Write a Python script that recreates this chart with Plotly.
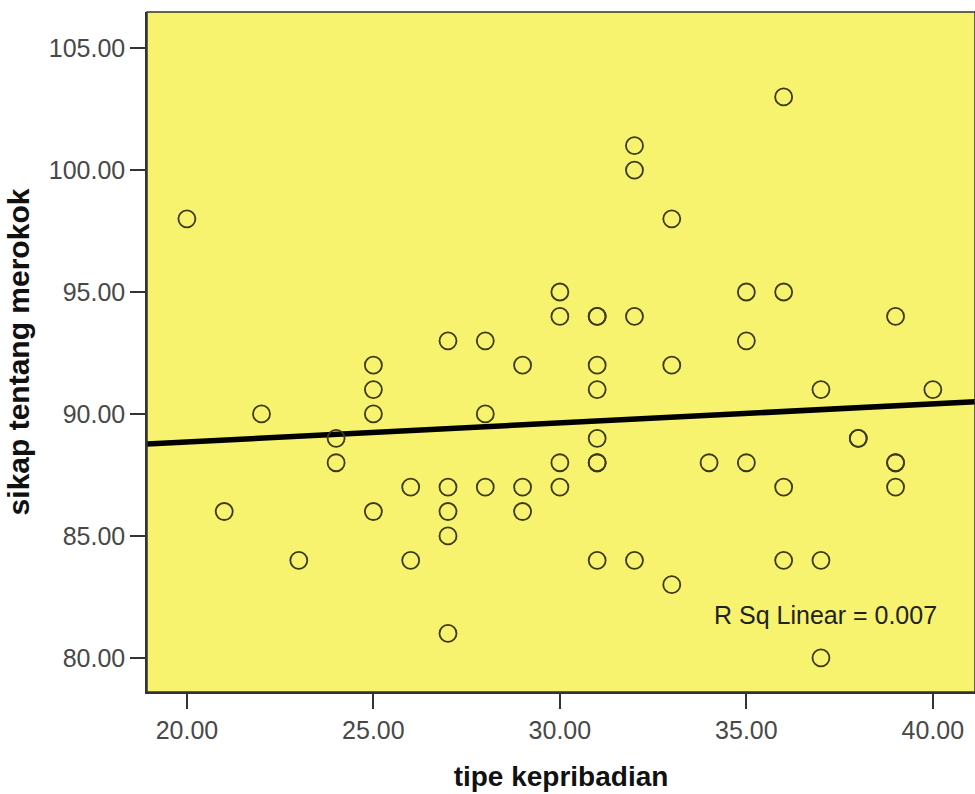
import numpy as np
import plotly.graph_objects as go

# tipe kepribadian (x) and sikap tentang merokok (y)
x_vals = [20, 21, 22, 23, 24, 24,
          25, 25, 25, 25, 26, 26,
          27, 27, 27, 27, 27, 28, 28, 28,
          29, 29, 29, 30, 30, 30, 30,
          31, 31, 31, 31, 31, 31, 31, 31,
          32, 32, 32, 32, 33, 33, 33, 34,
          35, 35, 35, 36, 36, 36, 36,
          37, 37, 37, 38, 38, 39, 39, 39, 39, 40]
y_vals = [98, 86, 90, 84, 89, 88,
          92, 91, 90, 86, 87, 84,
          93, 87, 86, 85, 81, 93, 90, 87,
          92, 87, 86, 95, 94, 88, 87,
          94, 94, 92, 91, 89, 88, 88, 84,
          101, 100, 94, 84, 98, 92, 83, 88,
          95, 93, 88, 103, 95, 87, 84,
          91, 84, 80, 89, 89, 94, 88, 88, 87, 91]

x_ticks = [20, 25, 30, 35, 40]
y_ticks = [80, 85, 90, 95, 100, 105]
r2_text = "R Sq Linear = 0.007"

x_range = [18.93, 41.13]
y_range = [78.6, 106.48]

slope, intercept = np.polyfit(x_vals, y_vals, 1)
fit_x = np.array(x_range)
fit_y = slope * fit_x + intercept

FONT = "Liberation Sans, Arial, sans-serif"

fig = go.Figure()
fig.add_trace(go.Scatter(
    x=fit_x, y=fit_y, mode="lines",
    line=dict(color="black", width=5.5), hoverinfo="skip", showlegend=False))
fig.add_trace(go.Scatter(
    x=x_vals, y=y_vals, mode="markers",
    marker=dict(symbol="circle-open", size=17, color="#3b3912",
                line=dict(width=1.8, color="#3b3912")),
    showlegend=False))

fig.add_annotation(x=37.12, y=81.75, text=r2_text, showarrow=False,
                   font=dict(family=FONT, size=25, color="#222222"))

axis_common = dict(showgrid=False, zeroline=False, showline=True, linecolor="#333333",
                   linewidth=1.5, ticks="outside", ticklen=15, tickwidth=1.5, tickcolor="#333333",
                   tickfont=dict(family=FONT, size=25, color="#484848"),
                   mirror=False)

fig.update_xaxes(range=x_range, tickvals=x_ticks,
                 ticktext=[f"{v:.2f}" for v in x_ticks],
                 title=dict(text="<b>tipe kepribadian</b>", standoff=24,
                            font=dict(family=FONT, size=28, color="#111111")),
                 **axis_common)
fig.update_yaxes(range=y_range, tickvals=y_ticks,
                 ticktext=[f"{v:.2f}" for v in y_ticks],
                 title=dict(text="<b>sikap tentang merokok</b>", standoff=10,
                            font=dict(family=FONT, size=30, color="#111111")),
                 **axis_common)

fig.add_shape(type="rect", xref="paper", yref="paper", x0=0, y0=0, x1=1, y1=1,
              line=dict(color="#333333", width=1.5), layer="above")

fig.update_layout(
    width=975, height=794,
    margin=dict(l=147, r=0, t=12, b=102),
    plot_bgcolor="#f7f36f",
    paper_bgcolor="white",
)

fig.write_html("out.html",
               config={"displayModeBar": False},
               post_script="document.body.style.margin='0';document.body.style.overflow='hidden';")
